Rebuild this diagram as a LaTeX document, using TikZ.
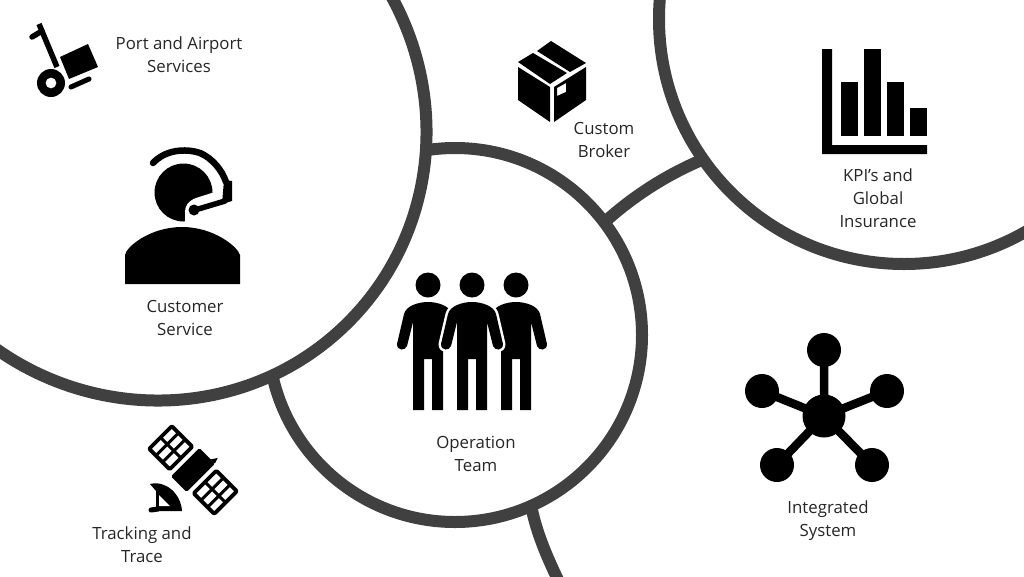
\documentclass[tikz,border=0pt]{standalone}
\usepackage{fontspec}
\setmainfont{Open Sans}
\tikzset{x=1pt,y=-1pt,
 ring/.style={draw=ringc,line width=12pt},
 lbl/.style={font=\fontsize{16.8}{23}\selectfont,text=txt,align=center,inner sep=0pt},
 ic/.style={fill=black,draw=none}}
\definecolor{ringc}{HTML}{404040}
\definecolor{txt}{HTML}{262626}
\newcommand{\figpath}[1]{(#1-15,410) -- (#1-15,359) -- (#1-15,322) -- (#1-21,346) .. controls (#1-23,351) and (#1-31,351) .. (#1-31,344) -- (#1-24,314) .. controls (#1-22,306) and (#1-10,302) .. (#1,302) .. controls (#1+10,302) and (#1+22,306) .. (#1+24,314) -- (#1+31,344) .. controls (#1+31,351) and (#1+23,351) .. (#1+21,346) -- (#1+15,322) -- (#1+15,410) -- (#1+4,410) -- (#1+4,359) -- (#1-4,359) -- (#1-4,410) -- cycle}
\begin{document}
\begin{tikzpicture}
\useasboundingbox (0,0) rectangle (1024,576);
\fill[white] (0,0) rectangle (1024,576);
\begin{scope}
\clip (0,0) rectangle (1024,576);
% connector arcs
\draw[ring] (607,220) .. controls (635,195) and (668,174) .. (704,159);
\draw[ring] (532,510) .. controls (537,533) and (546,555) .. (559,582);
% rings
\draw[ring,fill=white] (455,335) circle (187);
\draw[ring,fill=white,shift={(151,125)},rotate=-45] (0,0) ellipse [x radius=279,y radius=272];
\draw[ring] (904,19) circle (245);
\end{scope}
% labels
\node[lbl] (port) at (179,55) {Port and Airport\\Services};
\node[lbl] (cust) at (185,318) {Customer\\Service};
\node[lbl] (oper) at (476,454) {Operation\\Team};
\node[lbl] (brok) at (604,140) {Custom\\Broker};
\node[lbl] (kpi) at (878,198) {KPI’s and\\Global\\Insurance};
\node[lbl] (inte) at (828,520.5) {Integrated\\System};
\node[lbl] (track) at (142,545) {Tracking and\\Trace};
% hand truck
\draw[black,line width=5.5pt,line cap=round] (32,37) -- (42,31);
\draw[black,line width=5.5pt] (39,24) -- (57,67);
\fill[ic,even odd rule] (51,83) circle (14) (51,83) circle (5.5);
\fill[ic] (60,57) -- (88,44) -- (98,67) -- (69,79) -- cycle;
\draw[black,line width=5pt,line cap=round] (71,87) -- (89,79);
% customer service
\fill[ic] (183.5,192.5) circle (29);
\fill[white] (218,191) -- (196,198) .. controls (188,201) and (185,206) .. (185,212) -- (185,226) -- (230,226) -- (230,191) -- cycle;
\fill[ic] (125,284) -- (125,255) .. controls (126,247) and (150,227) .. (182,227) .. controls (214,227) and (238,247) .. (240,255) -- (240,284) -- cycle;
\draw[black,line width=6.5pt,line cap=round] (153,163) .. controls (165,150) and (185,148) .. (200,153) .. controls (212,158) and (222,170) .. (226,182);
\fill[ic] (224,180) -- (232,181) -- (232,201) -- (222,204) -- cycle;
\draw[black,line width=5.5pt,line cap=round] (195,210) -- (225,201);
\fill[ic] (194,210) circle (5.5);
% operation team
\fill[ic] (428,285) circle (12.5) (472,285) circle (12.5) (516,285) circle (12.5);
\fill[ic] \figpath{428};
\fill[ic] \figpath{516};
\draw[white,line width=5pt,line join=round] \figpath{472};
\fill[white] (457,318) -- (451,352) -- (458,360) -- (458,410) -- (486,410) -- (486,360) -- (493,352) -- (487,318) -- cycle;
\fill[ic] \figpath{472};
% satellite
\begin{scope}[shift={(193,470)},rotate=-45]
 \fill[ic,rounded corners=1.5pt] (-11,-20) rectangle (11,20);
 \fill[ic] (5,-20) -- (9,-26) -- (11,-20) -- cycle;
 \foreach \s in {-1,1}{
 \begin{scope}[xscale=\s]
 \draw[black,line width=3.8pt,line join=round,fill=white,rounded corners=1pt] (17,-16) rectangle (46,16);
 \draw[black,line width=3pt] (27,-16) -- (27,16) (36.5,-16) -- (36.5,16) (17,0) -- (46,0);
 \end{scope}}
\end{scope}
\fill[ic] (150,484) .. controls (166,480) and (181,494) .. (182,511) -- (156,511) -- (156,491) -- cycle;
\fill[white] (159,495) -- (159,506) -- (170,506) -- cycle;
\draw[black,line width=5pt,line cap=round] (151,510) -- (158,509);
% box
\fill[ic] (518,62) -- (533,53) -- (567,73) -- (550,84) -- cycle;
\fill[ic] (537,51) -- (551,41) -- (586,63) -- (570,72) -- cycle;
\fill[ic] (518,67) -- (550,87) -- (550,122) -- (518,100) -- cycle;
\fill[ic,even odd rule] (554,87) -- (586,67) -- (586,100) -- (554,122) -- cycle (557,88) -- (566,83) -- (566,92) -- (557,96) -- cycle;
% chart
\fill[ic] (822,49) -- (832,49) -- (832,145) -- (927,145) -- (927,154) -- (822,154) -- cycle;
\fill[ic] (841,82) rectangle (858,136);
\fill[ic] (864,49) rectangle (881,136);
\fill[ic] (887,82) rectangle (904,136);
\fill[ic] (910,108) rectangle (927,136);
% network
\coordinate (hub) at (824,416);
\draw[black,line width=8.5pt] (hub) -- (824,350) (hub) -- (762,391) (hub) -- (887,391) (hub) -- (777,465) (hub) -- (872,465);
\fill[ic] (hub) circle (21.5);
\fill[ic] (824,350) circle (17) (762,391) circle (17) (887,391) circle (17) (777,465) circle (17) (872,465) circle (17);
\end{tikzpicture}
\end{document}
